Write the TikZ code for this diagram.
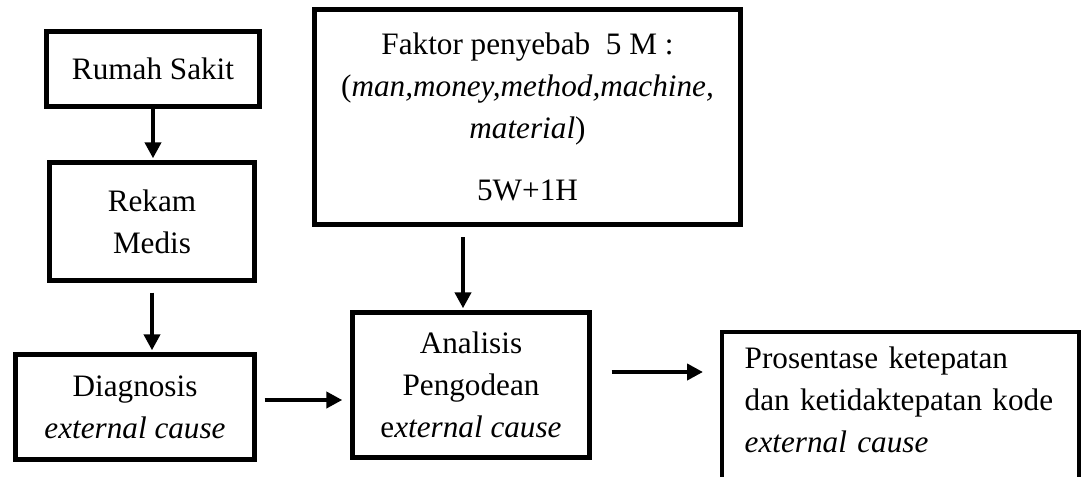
\documentclass[tikz,border=0pt]{standalone}
\usepackage{fontspec}
\setmainfont{Liberation Serif}
\usetikzlibrary{arrows.meta,calc}

\begin{document}
\begin{tikzpicture}[x=0.5pt,y=-0.5pt,
  box/.style={draw,line width=2.2pt,align=center,inner sep=0pt,font=\fontsize{15.6}{21}\selectfont},
  flow/.style={line width=2.2pt,-{Triangle[length=8pt,width=8pt]}}]
\useasboundingbox (0,0) rectangle (1083,477);
\node[box,minimum width=106.5pt,minimum height=37.5pt] (rs) at (153,69) {Rumah Sakit};
\node[box,minimum width=102.5pt,minimum height=59pt] (rm) at (152,221.5) {Rekam\\Medis};
\node[box,minimum width=119.5pt,minimum height=52.5pt] (dg) at (135,407) {Diagnosis\\\textit{external cause}};
\node[box,minimum width=213pt,minimum height=107.5pt] (fk) at (527.5,117)
  {Faktor penyebab\ \ 5 M :\\(\textit{man,money,method,machine,}\\\textit{material})\\[10pt]5W+1H};
\node[box,minimum width=118.5pt,minimum height=72.5pt] (an) at (471,385) {Analisis\\Pengodean\\e\textit{xternal cause}};
\node[box,align=left,anchor=north west,text width=156pt,inner xsep=11.25pt,inner ysep=7.5pt] (pr) at (720,330)
  {Prosentase ketepatan\\dan ketidaktepatan kode\\\textit{external cause}\\[30pt]\mbox{}};
% arrows
\draw[flow,shorten >=1pt] (rs.south) -- (rs.south |- rm.north);
\draw[flow,shorten >=1pt] ([yshift=-5pt]rm.south) -- (rm.south |- dg.north);
\coordinate (fa) at (463,237);
\draw[flow,shorten >=1pt] (fa) -- (fa |- an.north);
\coordinate (da) at ($(dg.east)+(8,-7)$);
\draw[flow,shorten >=4pt] (da) -- (da -| an.west);
\coordinate (ap) at ($(an.east)+(20,-13)$);
\draw[flow,shorten >=8.5pt] (ap) -- (ap -| pr.west);
\end{tikzpicture}
\end{document}
